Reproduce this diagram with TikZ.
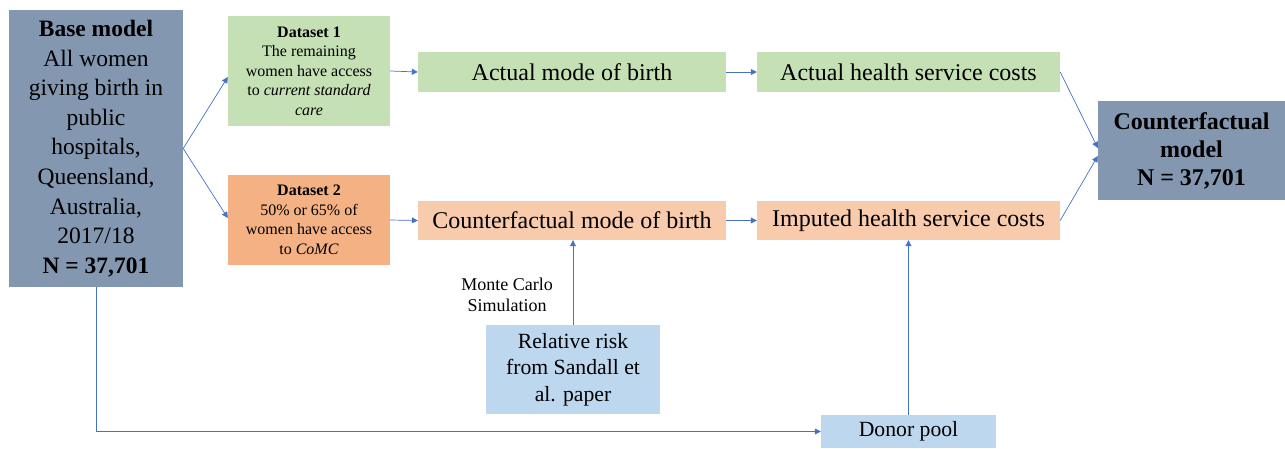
\documentclass[tikz,border=0pt]{standalone}
\usepackage{fontspec}
\setmainfont{Liberation Serif}
\usetikzlibrary{arrows.meta}
\definecolor{basecol}{HTML}{8497B0}
\definecolor{greencol}{HTML}{C5E0B4}
\definecolor{orangecol}{HTML}{F4B183}
\definecolor{lorangecol}{HTML}{F8CBAD}
\definecolor{bluecol}{HTML}{BDD7EE}
\definecolor{arrcol}{HTML}{4472C4}
\begin{document}
\begin{tikzpicture}[x=1pt,y=-1pt,
  box/.style={inner sep=0pt, align=center, text=black},
  big/.style={font=\fontsize{23.5}{29.6}\selectfont},
  med/.style={font=\fontsize{24}{28}\selectfont},
  mid/.style={font=\fontsize{21.7}{26.7}\selectfont},
  small/.style={font=\fontsize{16}{19.5}\selectfont},
  arr/.style={draw=arrcol, line width=0.7pt, -{Triangle[length=6pt,width=6pt]}}
]
\useasboundingbox (0,0) rectangle (1285,449);

\node[box, big, fill=basecol, minimum width=174pt, minimum height=277pt] (base) at (96,148.5)
  {\textbf{Base model}\\All women\\giving birth in\\public\\hospitals,\\Queensland,\\Australia,\\2017/18\\\textbf{N = 37,701}};

\node[box, small, fill=greencol, minimum width=162pt, minimum height=110pt] (ds1) at (309,71)
  {\textbf{Dataset 1}\\The remaining\\women have access\\to \textit{current standard}\\\textit{care}};

\node[box, small, fill=orangecol, minimum width=162pt, minimum height=90pt] (ds2) at (309,220)
  {\textbf{Dataset 2}\\50\% or 65\% of\\women have access\\to \textit{CoMC}};

\node[box, med, fill=greencol, minimum width=308pt, minimum height=40pt] (am) at (572,72) {Actual mode of birth};
\node[box, med, fill=greencol, minimum width=303pt, minimum height=40pt] (ac) at (908.5,72) {Actual health service costs};
\node[box, med, fill=lorangecol, minimum width=308pt, minimum height=39pt] (cm) at (572,220.5) {Counterfactual mode of birth};
\node[box, med, fill=lorangecol, minimum width=303pt, minimum height=39pt] (ic) at (908.5,220.5) {Imputed health service costs};

\node[box, med, fill=basecol, minimum width=187pt, minimum height=99pt] (cf) at (1191.5,150.5)
  {\textbf{Counterfactual}\\\textbf{model}\\\textbf{N = 37,701}};

\node[box, mid, fill=bluecol, minimum width=174pt, minimum height=89pt] (rr) at (573,369.5)
  {Relative risk\\from Sandall et\\al. paper};

\node[box, mid, fill=bluecol, minimum width=175pt, minimum height=33pt] (dp) at (908.5,431.5) {Donor pool};

\node[box, font=\fontsize{18}{21}\selectfont] (mc) at (507,295) {Monte Carlo\\Simulation};

\draw[arr] (base.east) -- ([yshift=-6pt]ds1.west);
\draw[arr] (base.east) -- ([yshift=2pt]ds2.west);
\draw[arr] (ds1.east) -- (am.west);
\draw[arr] (ds2.east) -- (cm.west);
\draw[arr] (am.east) -- (ac.west);
\draw[arr] (cm.east) -- (ic.west);
\draw[arr] (ac.east) -- ([yshift=2.5pt]cf.west);
\draw[arr] (ic.east) -- ([yshift=-5.5pt]cf.west);
\draw[arr] (rr.north) -- (rr.north |- cm.south);
\draw[arr] (dp.north) -- (dp.north |- ic.south);
\draw[arr] (base.south) -- (base.south |- dp.west) -- (dp.west);
\end{tikzpicture}
\end{document}
